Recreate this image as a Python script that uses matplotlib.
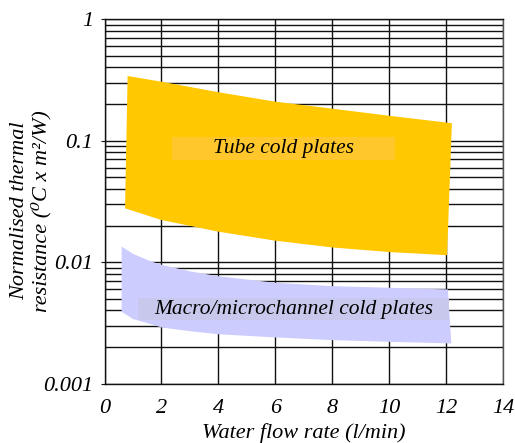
import matplotlib
matplotlib.use("Agg")
import matplotlib.pyplot as plt
from matplotlib.patches import Rectangle
from matplotlib.ticker import LogLocator, NullFormatter, FixedLocator

# tube cold plates band (outline)
tube_top_x = [0.81, 2.0, 4.0, 6.0, 8.0, 10.0, 12.2]
tube_top_y = [0.34, 0.305, 0.25, 0.209, 0.183, 0.160, 0.139]
tube_bot_x = [0.72, 2.0, 4.0, 6.0, 8.0, 10.0, 12.03]
tube_bot_y = [0.0277, 0.0222, 0.0178, 0.0150, 0.0132, 0.0121, 0.0114]

# macro/microchannel cold plates band
micro_top_x = [0.6, 1.0, 1.6, 2.0, 3.0, 4.0, 6.0, 8.0, 10.0, 12.06]
micro_top_y = [0.0134, 0.0117, 0.0102, 0.0095, 0.0084, 0.00765, 0.00676, 0.00634, 0.00615, 0.00596]
micro_bot_x = [0.6, 1.0, 1.6, 2.0, 3.0, 4.0, 6.0, 8.0, 10.0, 12.18]
micro_bot_y = [0.0039, 0.0034, 0.0031, 0.0029, 0.0027, 0.00255, 0.0024, 0.00228, 0.00221, 0.00214]

xticks = [0, 2, 4, 6, 8, 10, 12, 14]
yticks = [0.001, 0.01, 0.1, 1]
ytick_labels = ["0.001", "0.01", "0.1", "1"]

plt.rcParams["font.family"] = ["Liberation Serif", "DejaVu Serif"]
plt.rcParams["font.style"] = "italic"

fig = plt.figure(figsize=(5.15, 4.43), dpi=100)
ax = fig.add_axes([0.203, 0.134, 0.774, 0.823])

# bands as closed polygons
ax.fill(tube_top_x + tube_bot_x[::-1], tube_top_y + tube_bot_y[::-1],
        color="#ffc800", lw=0, zorder=2)
ax.fill(micro_top_x + micro_bot_x[::-1], micro_top_y + micro_bot_y[::-1],
        color="#ccccff", lw=0, zorder=2)

ax.set_yscale("log")
ax.set_xlim(0, 14)
ax.set_ylim(0.001, 1)
ax.xaxis.set_major_locator(FixedLocator(xticks))
ax.set_xticklabels([str(t) for t in xticks], fontsize=16)
ax.yaxis.set_major_locator(FixedLocator(yticks))
ax.set_yticklabels(ytick_labels, fontsize=16)
ax.yaxis.set_minor_locator(LogLocator(base=10, subs=range(2, 10)))
ax.yaxis.set_minor_formatter(NullFormatter())
ax.tick_params(axis="x", length=0, pad=11)
ax.tick_params(axis="y", which="major", length=3, pad=5, color="#111111")
ax.tick_params(axis="y", which="minor", length=0)

ax.grid(True, which="major", axis="x", color="#111111", lw=1.0, zorder=1)
ax.grid(True, which="both", axis="y", color="#111111", lw=1.0, zorder=1)
ax.set_axisbelow(True)
for s in ["left", "bottom", "top"]:
    ax.spines[s].set_color("#111111")
ax.spines["right"].set_color("#555555")
for s in ax.spines.values():
    s.set_linewidth(1.0)

# label boxes (text-box shapes in the original, wider than the text)
ax.add_patch(Rectangle((0.169, 0.613), 0.560, 0.063, transform=ax.transAxes,
                       fc="#ffc72c", ec="none", zorder=3))
ax.add_patch(Rectangle((0.084, 0.174), 0.780, 0.061, transform=ax.transAxes,
                       fc="#c8c8ec", ec="none", zorder=3))
ax.text(0.448, 0.645, "Tube cold plates", transform=ax.transAxes,
        ha="center", va="center", fontsize=15.5, zorder=4)
ax.text(0.474, 0.204, "Macro/microchannel cold plates", transform=ax.transAxes,
        ha="center", va="center", fontsize=15.5, zorder=4)

ax.set_xlabel("Water flow rate (l/min)", fontsize=16, labelpad=4)
fig.text(0.06, 0.524, "Normalised thermal\nresistance (\u2070C x m\u00b2/W)",
         rotation=90, ha="center", va="center", fontsize=16, linespacing=1.15)

fig.savefig("out.png", dpi=100)
